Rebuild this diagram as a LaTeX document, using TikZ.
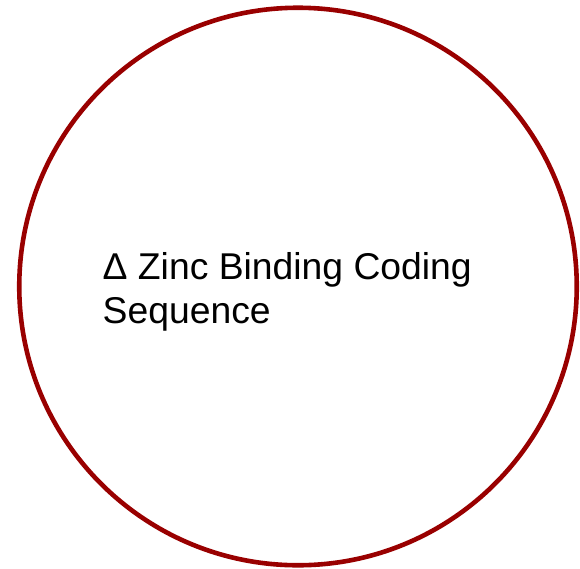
\documentclass[tikz,border=0pt]{standalone}
\usepackage{fontspec}
\setmainfont{Liberation Sans}
\definecolor{ringred}{HTML}{990000}
\tikzset{
  ring/.style={draw=ringred, line width=4.6pt, circle, minimum size=557.5pt, inner sep=0pt},
  label/.style={align=left, inner sep=0pt, font=\fontsize{37.3}{44}\selectfont, text=black}
}
\begin{document}
\begin{tikzpicture}[x=1pt,y=-1pt]
\useasboundingbox (0,0) rectangle (580,568);
\node[ring] (c) at (298,286.5) {};
\node[label, anchor=base west] (t) at (102.5,323.5) {Δ Zinc Binding Coding\\Sequence};
\end{tikzpicture}
\end{document}
